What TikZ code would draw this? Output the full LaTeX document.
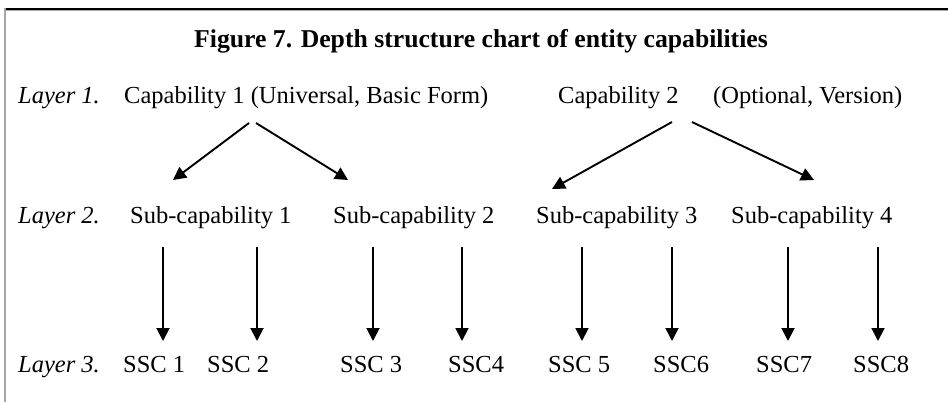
\documentclass[tikz,border=0pt]{standalone}
\usepackage{fontspec}
\setmainfont{Liberation Serif}
\usetikzlibrary{arrows.meta}
\begin{document}
\begin{tikzpicture}[x=1pt,y=-1pt,
  lbl/.style={anchor=base west, inner sep=0pt, font=\fontsize{24.5}{28}\selectfont},
  lyr/.style={lbl, font=\fontsize{24.5}{28}\selectfont\itshape},
  ttl/.style={anchor=base, inner sep=0pt, font=\fontsize{25.7}{30}\selectfont\bfseries},
  arr/.style={line width=1.9pt, -{Triangle[width=13pt,length=13pt]}}]
\useasboundingbox (0,0) rectangle (948,402);
\fill[white] (0,0) rectangle (948,402);

% frame: top rule and left rule
\draw[gray!70, line width=1.2pt] (5,10.5) -- (948,10.5);
\draw[black, line width=2pt] (5,8.5) -- (948,8.5);
\draw[gray!70, line width=2pt] (5,8) -- (5,402);

% title
\node[ttl] (title) at (481,47) {Figure 7. Depth structure chart of entity capabilities};

% layer 1
\node[lyr] (l1) at (18,103) {Layer 1.};
\node[lbl] (cap1) at (124,103) {Capability 1 (Universal, Basic Form)};
\node[lbl] (cap2) at (558,103) {Capability 2};
\node[lbl] (cap2b) at (713,103) {(Optional, Version)};

% layer 2
\node[lyr] (l2) at (18,223) {Layer 2.};
\node[lbl] (sub1) at (130,223) {Sub-capability 1};
\node[lbl] (sub2) at (333,223) {Sub-capability 2};
\node[lbl] (sub3) at (536,223) {Sub-capability 3};
\node[lbl] (sub4) at (731,223) {Sub-capability 4};

% layer 3
\node[lyr] (l3) at (18,372) {Layer 3.};
\node[lbl] (ssc1) at (123,372) {SSC 1};
\node[lbl] (ssc2) at (207,372) {SSC 2};
\node[lbl] (ssc3) at (340,372) {SSC 3};
\node[lbl] (ssc4) at (448,372) {SSC4};
\node[lbl] (ssc5) at (548,372) {SSC 5};
\node[lbl] (ssc6) at (653,372) {SSC6};
\node[lbl] (ssc7) at (756,372) {SSC7};
\node[lbl] (ssc8) at (853,372) {SSC8};

% arrow end points
\coordinate (c1a) at (249,123);
\coordinate (c1b) at (256,123);
\coordinate (s1t) at (173,180);
\coordinate (s2t) at (348,180);
\coordinate (c2a) at (672,122);
\coordinate (c2b) at (692,122);
\coordinate (s3t) at (552,189);
\coordinate (s4t) at (814,180);

\foreach \n/\x in {1/163,2/257,3/373,4/462,5/582,6/672,7/788,8/878}{
  \coordinate (v\n s) at (\x,247);
  \coordinate (v\n e) at (\x,341);
}

% layer 1 -> layer 2
\draw[arr] (c1a) -- (s1t);
\draw[arr] (c1b) -- (s2t);
\draw[arr] (c2a) -- (s3t);
\draw[arr] (c2b) -- (s4t);

% layer 2 -> layer 3
\foreach \n in {1,...,8}{
  \draw[arr] (v\n s) -- (v\n e);
}
\end{tikzpicture}
\end{document}
